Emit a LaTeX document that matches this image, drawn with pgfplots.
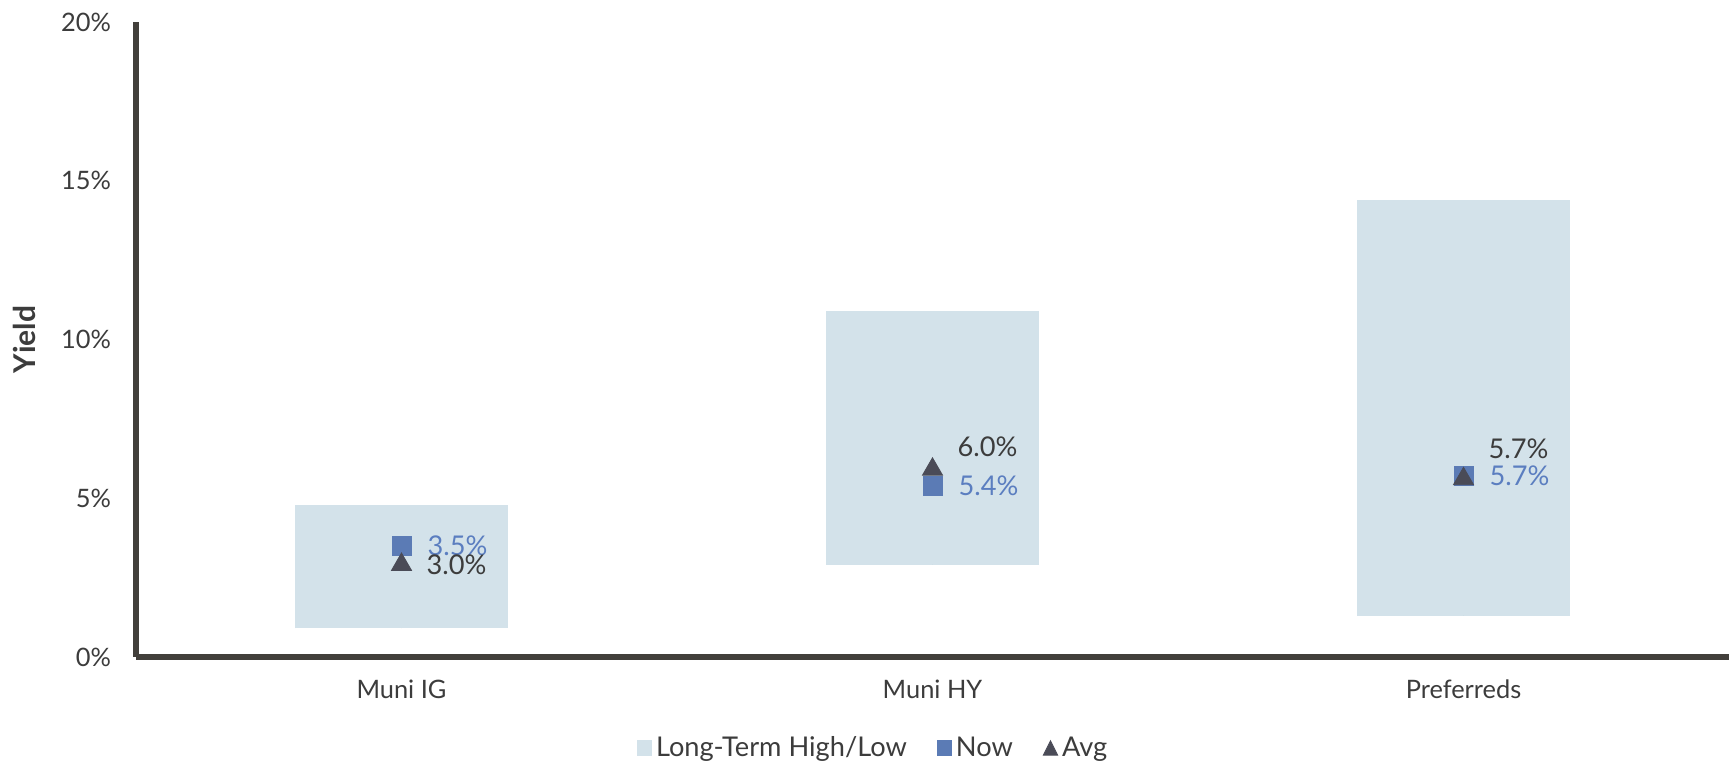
\documentclass[border=0pt]{standalone}
\usepackage{fontspec}
\setmainfont{Lato}
\usepackage{pgfplots}
\pgfplotsset{compat=1.18}
\usepackage{pgfplotstable}
\definecolor{rangeblue}{HTML}{D3E2EA}
\definecolor{nowblue}{HTML}{5B7BB5}
\definecolor{nowtext}{HTML}{5B7EC0}
\definecolor{avgdark}{HTML}{4A4B57}
\definecolor{axisdark}{HTML}{423F3B}
\definecolor{textdark}{HTML}{3C3C3C}

\pgfplotstableread{
x low high
0 0.9 4.8
1 2.9 10.9
2 1.3 14.4
}\rangetable
\pgfplotstableread{
x now
0 3.5
1 5.4
2 5.7
}\nowtable
\pgfplotstableread{
x avg dy
0 3.0 0
1 6.0 11.5
2 5.7 15
}\avgtable

\begin{document}
\begin{tikzpicture}
\begin{axis}[
  scale only axis, width=796.5pt, height=317.5pt,
  xmin=-0.5, xmax=2.5, ymin=0, ymax=20,
  axis x line=bottom, axis y line=left,
  axis line style={-, line width=2.6pt, color=axisdark},
  xtick={0,1,2}, xticklabels={Muni IG, Muni HY, Preferreds},
  ytick={0,5,10,15,20},
  yticklabel={\pgfmathprintnumber{\tick}\%},
  major tick length=0pt,
  /pgf/number format/assume math mode=true,
  tick label style={font=\fontsize{12.7}{15}\selectfont, color=textdark},
  xticklabel style={yshift=-8pt},
  yticklabel style={xshift=-9pt},
  ylabel={Yield},
  ylabel style={at={(axis description cs:-0.0703,0.5)}, anchor=center, rotate=0, font=\fontsize{15}{18}\bfseries\selectfont, color=textdark},
  legend style={at={(0.4633,-0.1433)}, anchor=center, draw=none, fill=none, legend columns=3, font=\fontsize{13.6}{16}\selectfont, text=textdark, /tikz/every even column/.append style={column sep=13pt}},
  clip=false,
]
\addplot[only marks, mark=*, mark size=0pt, mark options={draw=none, fill=none},
  legend image code/.code={\fill[rangeblue] (0pt,-3.6pt) rectangle (7.2pt,3.6pt);},
  error bars/.cd, y dir=plus, y explicit, error mark=none,
  error bar style={draw=rangeblue, line width=106.2pt}]
  table[x=x, y=low, y error expr=\thisrow{high}-\thisrow{low}] {\rangetable};
\addlegendentry{Long-Term High/Low}
\addplot[only marks, mark=square*, mark size=4.7pt, color=nowblue,
  legend image code/.code={\fill[nowblue] (0pt,-3.6pt) rectangle (7.2pt,3.6pt);},
  nodes near coords={\pgfmathprintnumber[fixed,fixed zerofill,precision=1]{\pgfplotspointmeta}\%},
  every node near coord/.append style={anchor=west, xshift=9.5pt, font=\fontsize{13.6}{16}\selectfont, color=nowtext}]
  table[x=x, y=now] {\nowtable};
\addlegendentry{Now}
\addplot[only marks, mark=triangle*, mark size=5.8pt, mark options={yshift=-1.45pt}, color=avgdark,
  legend image code/.code={\fill[avgdark] (0pt,-3.6pt) -- (7.2pt,-3.6pt) -- (3.6pt,3.6pt) -- cycle;},
  visualization depends on={\thisrow{dy}\as\dy},
  nodes near coords={\pgfmathprintnumber[fixed,fixed zerofill,precision=1]{\pgfplotspointmeta}\%},
  every node near coord/.append style={anchor=west, xshift=9pt, yshift=\dy pt, font=\fontsize{13.6}{16}\selectfont, color=textdark}]
  table[x=x, y=avg] {\avgtable};
\addlegendentry{Avg}
\end{axis}
\pgfresetboundingbox
\path[use as bounding box] ([xshift=-68pt,yshift=-53.5pt]current axis.south west) rectangle ([xshift=799.5pt,yshift=328.5pt]current axis.south west);
\end{tikzpicture}
\end{document}
